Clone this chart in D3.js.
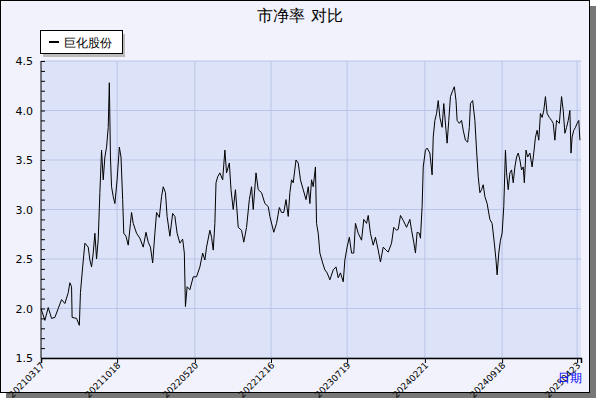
<!DOCTYPE html>
<html>
<head>
<meta charset="utf-8">
<script src="https://cdn.jsdelivr.net/npm/d3@7"></script>
<style>
body { margin: 0; background: #fff; }
text { font-family: "DejaVu Sans", sans-serif; }
</style>
</head>
<body>
<svg id="chart" width="600" height="400"></svg>
<script>
// trading day index and price/book ratio
var days = [0,7,13,19,25,31,37,43,49,52,55,56,64,69,71,75,79,85,88,91,94,97,100,103,106,109,112,115,118,121,123,125,127,130,133,137,141,144,147,149,153,157,161,163,166,172,178,184,189,193,197,201,205,208,213,217,220,224,227,232,237,241,245,250,255,258,260,263,268,274,280,286,291,295,298,304,307,310,313,315,318,322,
  327,331,334,339,342,346,350,355,361,365,370,375,379,382,387,391,397,403,409,412,419,424,429,433,437,441,445,448,451,454,459,463,467,472,477,481,484,487,490,494,496,499,502,507,511,515,520,526,531,535,539,544,547,551,555,559,563,566,571,577,581,586,589,593,598,602,607,611,616,621,625,631,635,640,643,647,652,658,664,
  667,671,674,677,681,683,686,688,692,695,700,704,706,709,712,715,718,722,725,729,731,734,737,741,744,747,749,753,757,760,764,768,771,773,777,781,784,787,790,793,796,799,803,808,812,816,819,821,824,827,830,833,836,838,841,844,847,850,853,856,859,862,865,868,870,873,876,880,884,887,890,893,896,899,902,905,908,911,915,919,922,925,928,933,937,940,943,946,949,952,954,956,959,962,965,968,970];
var pbr = [2.0,1.88,2.01,1.9,1.91,2.0,2.09,2.05,2.16,2.26,2.22,1.91,1.9,1.83,2.16,2.42,2.66,2.62,2.49,2.42,2.56,2.76,2.5,2.7,3.17,3.6,3.3,3.53,3.63,3.83,4.28,3.53,3.23,3.13,3.06,3.3,3.63,3.53,3.1,2.76,2.73,2.64,2.86,2.97,2.86,2.76,2.71,2.62,2.77,2.67,2.62,2.46,2.76,2.97,2.92,3.13,3.23,3.17,2.93,2.73,2.96,2.93,2.76,2.66,2.7,2.56,2.02,2.22,2.19,2.32,2.32,2.42,2.56,2.49,2.62,2.79,2.72,2.59,2.86,3.27,3.33,3.37,
  3.3,3.6,3.37,3.47,3.2,3.0,3.2,2.82,2.79,2.67,2.82,3.1,3.23,3.0,3.37,3.2,3.17,3.06,3.03,2.93,2.77,2.86,3.02,2.97,2.97,3.1,2.93,3.17,3.3,3.27,3.5,3.47,3.3,3.2,3.1,3.23,3.06,3.3,3.23,3.43,2.86,2.76,2.56,2.46,2.39,2.36,2.29,2.39,2.42,2.31,2.36,2.27,2.49,2.62,2.72,2.56,2.56,2.86,2.76,2.69,2.9,2.86,2.94,2.76,2.64,2.72,2.59,2.47,2.62,2.59,2.57,2.66,2.82,2.79,2.8,2.94,2.89,2.82,2.9,
  2.79,2.67,2.56,2.77,2.76,2.71,3.03,3.43,3.6,3.62,3.57,3.35,3.73,3.9,3.97,4.1,3.93,3.83,4.07,3.8,3.67,3.9,4.14,4.2,4.24,4.1,3.9,3.87,3.9,3.8,3.7,3.68,3.83,4.07,4.1,3.9,3.6,3.33,3.17,3.2,3.25,3.13,3.06,2.9,2.86,2.66,2.49,2.34,2.56,2.69,2.76,3.03,3.6,3.37,3.2,3.37,3.4,3.27,3.43,3.53,3.57,3.5,3.4,3.43,3.27,3.6,3.53,3.57,3.43,3.57,3.73,3.8,3.7,3.97,3.93,4.0,4.14,3.97,3.93,3.9,3.87,3.7,3.9,3.87,4.14,4.0,3.77,3.83,3.9,4.0,3.57,3.73,3.8,3.83,3.87,3.9,3.7];
var tickDays = [0,137,277,414,551,691,830,965];
var tickLabels = ["20210317","20211018","20220520","20221216","20230719","20240221","20240918","20250423"];
var yTicks = [1.5,2.0,2.5,3.0,3.5,4.0,4.5];

var svg = d3.select("#chart");
var M = {left: 41, right: 581, top: 61, bottom: 358};

// frame with shadow
svg.append("rect").attr("x", 6).attr("y", 6).attr("width", 590).attr("height", 392).attr("fill", "#777");
svg.append("rect").attr("x", 0.5).attr("y", 0.5).attr("width", 589).attr("height", 392)
  .attr("fill", "#f1f2fb").attr("stroke", "#000");

var x = d3.scaleLinear().domain([0, 972]).range([M.left, M.right]);
var y = d3.scaleLinear().domain([1.5, 4.5]).range([M.bottom, M.top]);

svg.append("rect").attr("x", M.left).attr("y", M.top).attr("width", M.right - M.left).attr("height", M.bottom - M.top)
  .attr("fill", "#dce2f7");

// grid
svg.selectAll(".hg").data(yTicks).join("line")
  .attr("x1", M.left).attr("x2", M.right).attr("y1", d => y(d)).attr("y2", d => y(d))
  .attr("stroke", "#b9c5e8").attr("stroke-width", 1);
svg.selectAll(".vg").data(tickDays.slice(1)).join("line")
  .attr("x1", d => x(d)).attr("x2", d => x(d)).attr("y1", M.top).attr("y2", M.bottom)
  .attr("stroke", "#b9c5e8").attr("stroke-width", 1);

// line
var line = d3.line().x((d, i) => x(days[i])).y(d => y(d));
svg.append("path").datum(pbr).attr("d", line).attr("fill", "none").attr("stroke", "#000").attr("stroke-width", 1);

// y axis: labels + inner minor ticks
var yAxis = d3.axisRight(y).tickValues(d3.range(15, 46).map(d => d / 10)).tickSize(4).tickFormat("");
svg.append("g").attr("transform", "translate(" + M.left + ",0)").call(yAxis)
  .call(g => g.select(".domain").remove())
  .call(g => g.selectAll("line").attr("stroke", "#000"));
svg.append("line").attr("x1", M.left).attr("x2", M.left).attr("y1", M.top).attr("y2", M.bottom).attr("stroke", "#000");
svg.selectAll(".yl").data(yTicks).join("text")
  .attr("x", 33).attr("y", d => y(d) + 4).attr("text-anchor", "end")
  .attr("font-size", 11).text(d => d.toFixed(1));

// x axis
var xAxis = d3.axisBottom(x).tickValues(tickDays).tickSize(5).tickFormat("");
svg.append("g").attr("transform", "translate(0," + M.bottom + ")").call(xAxis)
  .call(g => g.select(".domain").attr("stroke", "#000").attr("stroke-width", 1.5))
  .call(g => g.selectAll("line").attr("stroke", "#000"));
svg.selectAll(".xl").data(tickDays).join("text")
  .attr("transform", d => "translate(" + (x(d) + 4) + "," + (M.bottom + 8) + ") rotate(-45)")
  .attr("text-anchor", "end").attr("font-size", 9).text((d, i) => tickLabels[i]);

svg.append("text").attr("x", 582).attr("y", 382).attr("text-anchor", "end")
  .attr("font-size", 12).attr("fill", "#00f").attr("font-family", "Noto Sans CJK SC").text("日期");

// title
svg.append("text").attr("x", 300).attr("y", 21).attr("text-anchor", "middle")
  .attr("font-size", 16).attr("font-family", "Noto Sans CJK SC").text("市净率  对比");

// legend
svg.append("rect").attr("x", 43).attr("y", 34).attr("width", 82).attr("height", 23).attr("fill", "#bbb");
svg.append("rect").attr("x", 40.5).attr("y", 30.5).attr("width", 82).attr("height", 23).attr("fill", "#fff").attr("stroke", "#000");
svg.append("line").attr("x1", 49).attr("x2", 59).attr("y1", 42).attr("y2", 42).attr("stroke", "#000").attr("stroke-width", 2);
svg.append("text").attr("x", 64).attr("y", 47).attr("font-size", 12).attr("font-family", "Noto Sans CJK SC").text("巨化股份");
</script>
</body>
</html>
